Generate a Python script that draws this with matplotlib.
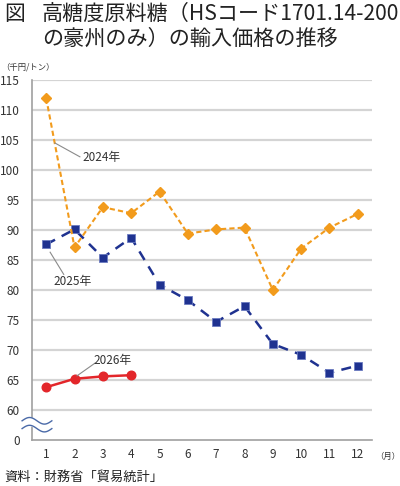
import numpy as np
import matplotlib.pyplot as plt

plt.rcParams['font.family'] = ['Noto Sans CJK JP', 'DejaVu Sans']

months = [1, 2, 3, 4, 5, 6, 7, 8, 9, 10, 11, 12]
price_2024 = [112.0, 87.1, 93.8, 92.8, 96.4, 89.4, 90.1, 90.4, 80.0, 86.9, 90.4, 92.7]
price_2025 = [87.6, 90.1, 85.4, 88.7, 80.9, 78.3, 74.7, 77.3, 71.0, 69.2, 66.2, 67.4]
months_2026 = [1, 2, 3, 4]
price_2026 = [63.8, 65.2, 65.6, 65.8]

# y axis is broken: 0 is drawn one step below 60
ytick_vals = [55, 60, 65, 70, 75, 80, 85, 90, 95, 100, 105, 110, 115]
ytick_labels = ['0', '60', '65', '70', '75', '80', '85', '90', '95', '100', '105', '110', '115']

ORANGE = '#F29B1C'
NAVY = '#1F3290'
RED = '#E3262A'
GRID = '#D4D4D4'
TEXT = '#333333'
LEADER = '#8a8a8a'

W, H = 400, 486
fig = plt.figure(figsize=(W / 100, H / 100), dpi=100)
ax = fig.add_axes([32 / W, 1 - 440 / H, 340 / W, 360 / H])

ax.plot(months, price_2024, color=ORANGE, lw=1.5, ls=(0, (2.5, 1.5)),
        marker='D', ms=5, mec=ORANGE, mfc=ORANGE, zorder=4)
ax.plot(months, price_2025, color=NAVY, lw=1.8, ls=(0, (4, 3)),
        marker='s', ms=6.2, mec='#6b7bc0', mew=0.6, mfc=NAVY, zorder=3)
ax.plot(months_2026, price_2026, color=RED, lw=1.8,
        marker='o', ms=6.2, mec=RED, mfc=RED, zorder=5)

ax.set_xlim(0.5, 12.5)
ax.set_ylim(55, 115)
ax.set_xticks(months)
ax.set_xticklabels([str(m) for m in months])
ax.set_yticks(ytick_vals)
ax.set_yticklabels(ytick_labels)
ax.tick_params(length=0, labelsize=8.5, colors=TEXT, pad=6)
ax.tick_params(axis='y', pad=9)

for v in ytick_vals[1:]:
    ax.axhline(v, color=GRID, lw=1.6, zorder=1)
for side in ['top', 'right']:
    ax.spines[side].set_visible(False)
for side in ['left', 'bottom']:
    ax.spines[side].set_color('#a0a0a0')
    ax.spines[side].set_linewidth(1.2)

# axis break symbol
bx = np.linspace(0.15, 1.2, 60)
wave = 0.55 * np.sin(2 * np.pi * (bx - 0.15) / 1.05)
ax.fill_between(bx, 58.2 + wave, 56.9 + wave, color='white', zorder=6, clip_on=False)
ax.plot(bx, 58.2 + wave, color='#4a6aa8', lw=1.0, zorder=7, clip_on=False)
ax.plot(bx, 56.9 + wave, color='#4a6aa8', lw=1.0, zorder=7, clip_on=False)

# series labels with leader lines
ax.plot([1.31, 2.19], [104.5, 102.2], color=LEADER, lw=0.8, zorder=6)
ax.text(2.28, 102.0, '2024年', fontsize=8.5, color=TEXT, ha='left', va='center', zorder=6)
ax.plot([1.14, 1.62], [86.3, 82.6], color=LEADER, lw=0.8, zorder=6)
ax.text(1.95, 81.4, '2025年', fontsize=8.5, color=TEXT, ha='center', va='center', zorder=6)
ax.plot([2.09, 2.72], [65.7, 67.8], color=LEADER, lw=0.8, zorder=6)
ax.text(3.36, 68.3, '2026年', fontsize=8.5, color=TEXT, ha='center', va='center', zorder=6)

fig.text(4 / W, 1 - 14 / H, '図', fontsize=15, color='#222222', va='center')
fig.text(42 / W, 1 - 14 / H, '高糖度原料糖（HSコード1701.14-200', fontsize=15.2,
         color='#222222', va='center')
fig.text(42 / W, 1 - 39 / H, 'の豪州のみ）の輸入価格の推移', fontsize=15.2,
         color='#222222', va='center')
fig.text(1 / W, 1 - 67 / H, '（千円/トン）', fontsize=6, color=TEXT, va='center')
fig.text(375 / W, 1 - 456 / H, '（月）', fontsize=6, color=TEXT, va='center')
fig.text(4 / W, 1 - 477 / H, '資料：財務省「貿易統計」', fontsize=9.5, color='#222222', va='center')

fig.savefig('out.png', dpi=100)
